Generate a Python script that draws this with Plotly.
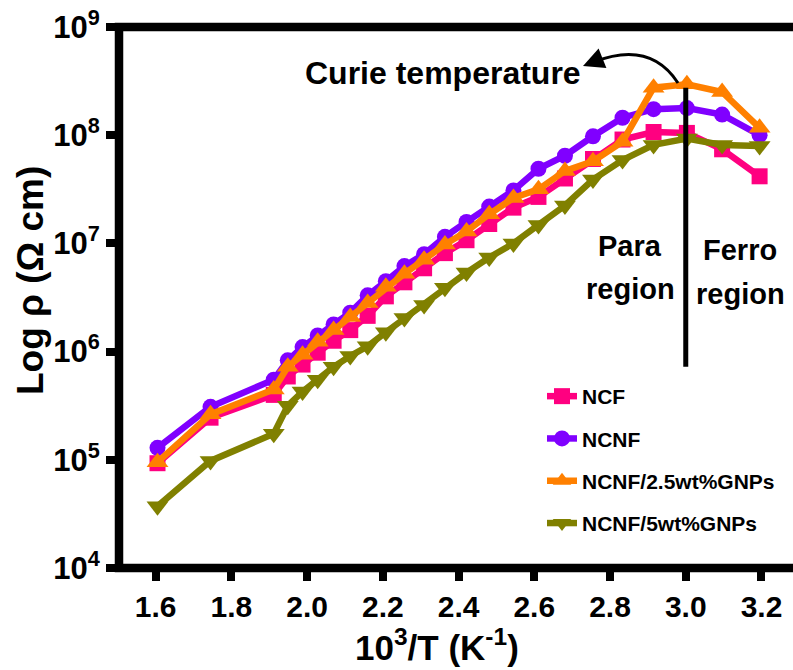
import plotly.graph_objects as go

# 10^3/T (K^-1) for the measured temperatures
inv_T = [1.605, 1.745, 1.912, 1.949, 1.988, 2.028, 2.070, 2.114, 2.160, 2.208,
         2.257, 2.309, 2.364, 2.421, 2.481, 2.545, 2.611, 2.681, 2.755, 2.833,
         2.915, 3.003, 3.096, 3.195]

# Resistivity rho (Ohm cm)
rho_ncf = [9.3e4, 2.45e5, 3.98e5, 5.89e5, 7.59e5, 9.77e5, 1.26e6, 1.58e6, 2.14e6, 3.24e6,
           4.37e6, 5.89e6, 8.13e6, 1.07e7, 1.51e7, 2.14e7, 2.69e7, 3.98e7, 6.03e7, 9.12e7,
           1.07e8, 1.05e8, 7.41e7, 4.17e7]
rho_ncnf = [1.29e5, 3.09e5, 5.50e5, 8.30e5, 1.10e6, 1.41e6, 1.78e6, 2.29e6, 3.31e6, 4.47e6,
            6.17e6, 7.94e6, 1.15e7, 1.58e7, 2.19e7, 3.09e7, 4.90e7, 6.46e7, 9.77e7, 1.45e8,
            1.74e8, 1.78e8, 1.55e8, 1.00e8]
rho_gnp25 = [9.5e4, 2.63e5, 4.47e5, 7.24e5, 9.33e5, 1.23e6, 1.58e6, 2.09e6, 2.82e6, 3.98e6,
             5.25e6, 7.08e6, 9.77e6, 1.29e7, 1.86e7, 2.63e7, 3.16e7, 4.68e7, 5.75e7, 8.71e7,
             2.75e8, 2.95e8, 2.51e8, 1.17e8]
rho_gnp5 = [3.72e4, 9.77e4, 1.74e5, 3.16e5, 4.27e5, 5.50e5, 7.24e5, 9.12e5, 1.12e6, 1.51e6,
            2.04e6, 2.69e6, 3.89e6, 5.37e6, 7.41e6, 1.00e7, 1.48e7, 2.24e7, 3.89e7, 5.89e7,
            8.13e7, 9.33e7, 8.13e7, 7.94e7]

series_names = ["NCF", "NCNF", "NCNF/2.5wt%GNPs", "NCNF/5wt%GNPs"]
series_values = [rho_ncf, rho_ncnf, rho_gnp25, rho_gnp5]
series_colors = ["#FF0080", "#8000FF", "#FF8000", "#808000"]
series_symbols = ["square", "circle", "triangle-up", "triangle-down"]
series_sizes = [16, 16, 19, 19]

# Curie temperature marker line
curie_x = [3.0, 3.0]
curie_rho = [7.26e5, 2.74e8]

x_ticks = [1.6, 1.8, 2.0, 2.2, 2.4, 2.6, 2.8, 3.0, 3.2]
y_ticks = [1e4, 1e5, 1e6, 1e7, 1e8, 1e9]
y_ticktext = ["10<sup>4</sup>", "10<sup>5</sup>", "10<sup>6</sup>",
              "10<sup>7</sup>", "10<sup>8</sup>", "10<sup>9</sup>"]

FONT = "Liberation Sans, Arial, sans-serif"

fig = go.Figure()
for i, (name, vals) in enumerate(zip(series_names, series_values)):
    fig.add_trace(go.Scatter(
        x=inv_T, y=vals, name=name, mode="lines+markers",
        legendgroup=name,
        line=dict(color=series_colors[i], width=6.5),
        marker=dict(symbol=series_symbols[i], size=series_sizes[i],
                    color=series_colors[i], line=dict(width=0)),
    ))

fig.add_trace(go.Scatter(
    x=curie_x, y=curie_rho, mode="lines", showlegend=False,
    line=dict(color="black", width=5), hoverinfo="skip",
))

# plot area in pixels
L, T, W, H = 119, 27, 674, 541


def px(xp):
    return (xp - L) / W


def py(yp):
    return (T + H - yp) / H


shapes = [
    # frame: bottom, left and top sides
    dict(type="path", xref="paper", yref="paper",
         path="M1.02,0 L0,0 L0,1 L1.02,1",
         line=dict(color="black", width=8.5), layer="above"),
    # curved arrow from the Curie line to the label
    dict(type="path", xref="paper", yref="paper",
         path=f"M{px(678)},{py(83)} Q{px(650)},{py(40)} {px(594)},{py(62)}",
         line=dict(color="black", width=3)),
]

bold = dict(family=FONT, color="black", weight="bold")


def label(text, x, y, size, **kw):
    return dict(text=text, x=px(x), y=py(y), xref="paper", yref="paper",
                showarrow=False, font=dict(size=size, **bold),
                xanchor="center", yanchor="middle", **kw)


annotations = [
    label("Curie temperature", 443, 73, 32),
    dict(text="", x=px(583), y=py(66), xref="paper", yref="paper",
         showarrow=True, ax=15, ay=-6, arrowhead=2, arrowsize=1.4, arrowwidth=3,
         arrowcolor="black"),
    label("Para", 630, 246, 29),
    label("region", 630, 289, 29),
    label("Ferro", 740, 250, 29),
    label("region", 740, 294, 29),
    label("10<sup>3</sup>/T (K<sup>-1</sup>)", 437, 645, 35),
    label("Log ρ (Ω cm)", 30, 281, 37, textangle=-90),
]

fig.update_layout(
    width=793, height=670,
    margin=dict(l=L, r=0, t=T, b=670 - T - H, pad=0),
    paper_bgcolor="white", plot_bgcolor="white",
    font=dict(family=FONT, color="black", weight="bold"),
    showlegend=True,
    legend=dict(x=px(542), y=py(376), xanchor="left", yanchor="top",
                bgcolor="rgba(0,0,0,0)", borderwidth=0,
                font=dict(size=21, **bold), traceorder="grouped",
                tracegroupgap=12, itemwidth=30),
    shapes=shapes,
    annotations=annotations,
)

fig.update_xaxes(
    range=[1.5033, 3.2832], tickvals=x_ticks, tickformat=".1f",
    showgrid=False, zeroline=False, showline=False,
    ticks="outside", ticklen=12, tickwidth=8, tickcolor="black",
    tickfont=dict(size=30, **bold),
)
fig.update_yaxes(
    type="log", range=[4, 9], tickvals=y_ticks, ticktext=y_ticktext,
    showgrid=False, zeroline=False, showline=False,
    ticks="outside", ticklen=12, tickwidth=8, tickcolor="black",
    tickfont=dict(size=31, **bold),
)

fig.write_html("out.html")
